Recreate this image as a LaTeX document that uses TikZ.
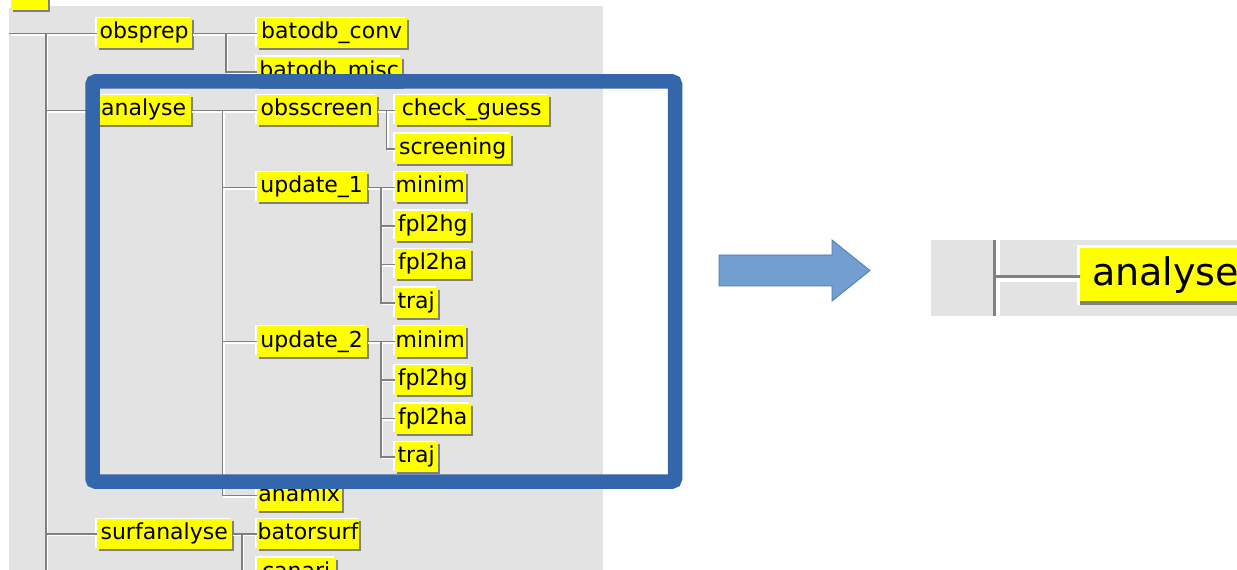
\documentclass[tikz,border=0pt]{standalone}
\usepackage{fontspec}
\newfontfamily\tkfont{DejaVu Sans}
\usetikzlibrary{shadows}
\definecolor{bg}{RGB}{227,227,227}
\definecolor{ln}{RGB}{128,128,128}
\definecolor{shd}{RGB}{128,128,128}
\definecolor{tkyellow}{RGB}{255,255,0}
\definecolor{frameblue}{RGB}{51,102,170}
\definecolor{arrowfill}{RGB}{114,159,207}
\definecolor{arrowline}{RGB}{72,122,182}
\newcommand\treelinks[1]{%
  \draw[#1] (edgeL) -- (obsprep.west);
  \draw[#1] (trunk |- obsprep.west) -- (trunkEnd);
  \draw[#1] (trunk |- analyse.west) -- (analyse.west);
  \draw[#1] (trunk |- surfanalyse.west) -- (surfanalyse.west);
  \draw[#1] (obsprep.east) -- (batodb_conv.west);
  \draw[#1] (busOP |- obsprep.east) |- (batodb_misc.west);
  \draw[#1] (analyse.east) -- (obsscreen.west);
  \draw[#1] (busA |- analyse.east) |- (anamix.west);
  \draw[#1] (busA |- update_1.west) -- (update_1.west);
  \draw[#1] (busA |- update_2.west) -- (update_2.west);
  \draw[#1] (obsscreen.east) -- (check_guess.west);
  \draw[#1] (busO |- obsscreen.east) |- (screening.west);
  \draw[#1] (update_1.east) -- (minimA.west);
  \draw[#1] (busU |- update_1.east) |- (trajA.west);
  \draw[#1] (busU |- fpltwohgA.west) -- (fpltwohgA.west);
  \draw[#1] (busU |- fpltwohaA.west) -- (fpltwohaA.west);
  \draw[#1] (update_2.east) -- (minimB.west);
  \draw[#1] (busU |- update_2.east) |- (trajB.west);
  \draw[#1] (busU |- fpltwohgB.west) -- (fpltwohgB.west);
  \draw[#1] (busU |- fpltwohaB.west) -- (fpltwohaB.west);
  \draw[#1] (surfanalyse.east) -- (batorsurf.west);
  \draw[#1] (busS |- surfanalyse.east) |- (canari.west);
}
\begin{document}
\begin{tikzpicture}[x=1bp,y=-1bp,
  tkbox/.style={fill=tkyellow, inner xsep=1bp, inner ysep=0pt, minimum height=30bp,
    anchor=west, font=\tkfont\fontsize{22bp}{26bp}\selectfont,
    text height=16bp, text depth=5bp,
    general shadow={fill=white, shadow xshift=-1.5bp, shadow yshift=1.5bp},
    general shadow={fill=shd, shadow xshift=2bp, shadow yshift=-2bp}},
  link/.style={draw=ln, line width=1.9bp},
  hilite/.style={draw=white, line width=1.2bp},
  bigbox/.style={fill=tkyellow, anchor=north west, inner xsep=12bp, inner ysep=0pt,
    minimum height=52.7bp, text width=133bp, align=left,
    font=\tkfont\fontsize{38bp}{44bp}\selectfont, text height=29bp, text depth=8bp}]
\path[use as bounding box] (0,0) rectangle (1237,570);
\clip (0,0) rectangle (1237,570);
% background of the tree window
\fill[bg] (9,6) rectangle (603,570);
% nodes
\node[tkbox, minimum width=37bp] (root) at (10.5,-5) {};
\node[tkbox, minimum width=95bp] (obsprep) at (96.5,33.5) {obsprep};
\node[tkbox, minimum width=150bp] (batodb_conv) at (256.5,33.5) {batodb\_conv};
\node[tkbox, minimum width=145bp] (batodb_misc) at (256.5,72) {batodb\_misc};
\node[tkbox, minimum width=94bp] (analyse) at (96.5,110.5) {analyse};
\node[tkbox, minimum width=120bp] (obsscreen) at (256.5,110.5) {obsscreen};
\node[tkbox, minimum width=154bp] (check_guess) at (394.5,110.5) {check\_guess};
\node[tkbox, minimum width=116bp] (screening) at (394.5,149) {screening};
\node[tkbox, minimum width=110bp] (update_1) at (256.5,187.5) {update\_1};
\node[tkbox, minimum width=71bp] (minimA) at (394.5,187.5) {minim};
\node[tkbox, minimum width=76bp] (fpltwohgA) at (394.5,226) {fpl2hg};
\node[tkbox, minimum width=76bp] (fpltwohaA) at (394.5,264.5) {fpl2ha};
\node[tkbox, minimum width=43bp] (trajA) at (394.5,303) {traj};
\node[tkbox, minimum width=110bp] (update_2) at (256.5,341.5) {update\_2};
\node[tkbox, minimum width=71bp] (minimB) at (394.5,341.5) {minim};
\node[tkbox, minimum width=76bp] (fpltwohgB) at (394.5,380) {fpl2hg};
\node[tkbox, minimum width=76bp] (fpltwohaB) at (394.5,418.5) {fpl2ha};
\node[tkbox, minimum width=43bp] (trajB) at (394.5,457) {traj};
\node[tkbox, minimum width=85bp] (anamix) at (256.5,495.5) {anamix};
\node[tkbox, minimum width=135bp] (surfanalyse) at (96.5,534) {surfanalyse};
\node[tkbox, minimum width=102bp] (batorsurf) at (256.5,534) {batorsurf};
\node[tkbox, minimum width=79bp] (canari) at (256.5,572.5) {canari};
% bus coordinates
\coordinate (edgeL) at (9,33.5);
\coordinate (trunk) at (46,0);
\coordinate (trunkEnd) at (46,575);
\coordinate (busOP) at (226,0);
\coordinate (busA) at (222.5,0);
\coordinate (busO) at (386.5,0);
\coordinate (busU) at (381,0);
\coordinate (busS) at (242,0);
% connectors: white highlight, then grey line
\begin{scope}[transform canvas={shift={(1.5bp,-1.5bp)}}]
  \treelinks{hilite}
\end{scope}
\treelinks{link}
% highlight frame
\draw[frameblue, line width=14.5bp, rounded corners=3bp] (92.5,81.5) rectangle (675,481.5);
% block arrow
\draw[fill=arrowfill, draw=arrowline, line width=0.8bp, line join=miter]
  (719,255) -- (832,255) -- (832,240) -- (870,270.5) -- (832,301) -- (832,286) -- (719,286) -- cycle;
% magnified view
\fill[bg] (931,240) rectangle (1237,316);
\coordinate (pvTop) at (994.5,240);
\coordinate (pvBot) at (994.5,316);
\fill[white] (996,240) rectangle (1000,316);
\fill[white] (1077,245) rectangle (1237,304.7);
\fill[shd] (1080,300.7) rectangle (1237,304.7);
\node[bigbox] (bigA) at (1080,248) {analyse};
\coordinate (hzL) at (996,276.8);
\fill[white] (1000,278.4) rectangle (1077,281.6);
\draw[shd, line width=3bp] (pvTop) -- (pvBot);
\draw[shd, line width=3bp] (hzL) -- (hzL -| bigA.west) -- ++(-1.5,0);
\end{tikzpicture}
\end{document}
